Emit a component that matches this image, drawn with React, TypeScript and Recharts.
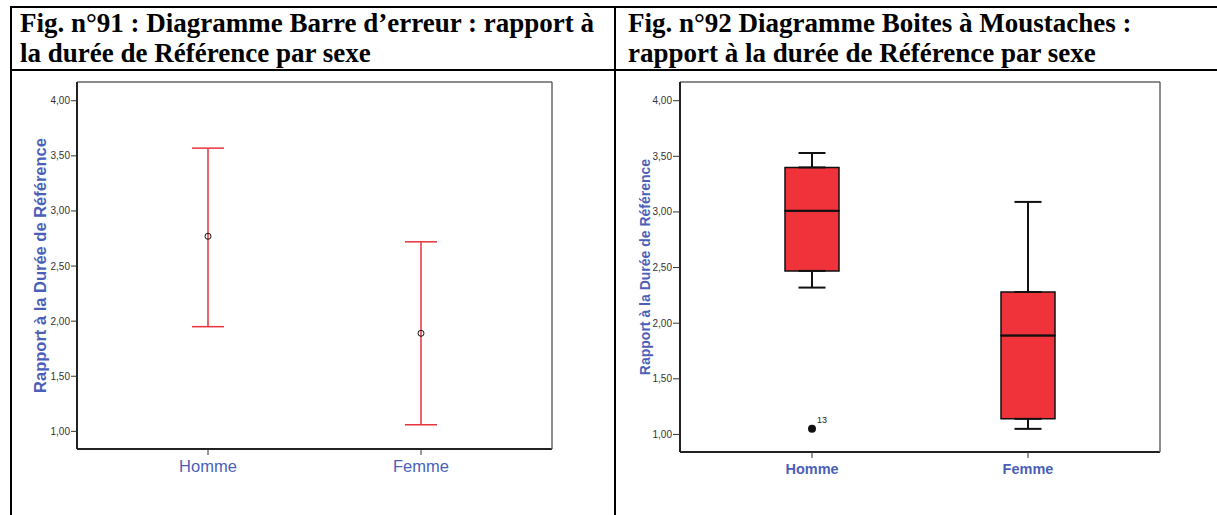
import { Bar, ComposedChart, ErrorBar, LabelList, Scatter, XAxis, YAxis } from "recharts";

const sexes = ["Homme", "Femme"];

// Fig. 91 : moyenne et intervalle de confiance
const means = [2.77, 1.89];
const ciLow = [1.95, 1.06];
const ciHigh = [3.57, 2.72];

// Fig. 92 : boites a moustaches
const whiskerLow = [2.32, 1.05];
const q1 = [2.47, 1.14];
const medians = [3.01, 1.89];
const q3 = [3.4, 2.28];
const whiskerHigh = [3.53, 3.09];
const outliers = [1.05, null];
const outlierIds = ["13", null];

const yTicks = [1, 1.5, 2, 2.5, 3, 3.5, 4];

const BLUE = "#4b5fb8";
const RED = "#e8333b";
const BOX_RED = "#f0323a";
const SANS = "'Liberation Sans', Arial, sans-serif";
const SERIF = "'Liberation Serif', 'Times New Roman', serif";

const errorData = sexes.map((sexe, i) => ({
  sexe,
  mean: means[i],
  ci: [means[i] - ciLow[i], ciHigh[i] - means[i]],
}));

const boxData = sexes.map((sexe, i) => ({
  sexe,
  base: q1[i],
  lower: medians[i] - q1[i],
  upper: q3[i] - medians[i],
  q1: q1[i],
  q3: q3[i],
  median: medians[i],
  lowWhisker: [q1[i] - whiskerLow[i], 0],
  highWhisker: [0, whiskerHigh[i] - q3[i]],
  outlier: outliers[i],
  outlierId: outlierIds[i],
}));

const fmt = (v: number) => v.toFixed(2).replace(".", ",");

const frameLine = { stroke: "#666", strokeWidth: 1.5 };

function ErrorBarChart() {
  return (
    <ComposedChart width={600} height={440} data={errorData} margin={{ top: 9, right: 59, bottom: 33, left: 5 }}>
      <XAxis
        dataKey="sexe"
        padding={{ left: 131, right: 131 }}
        height={30}
        tickSize={6}
        tickMargin={5}
        tick={{ fill: BLUE, fontSize: 16.5, fontFamily: SANS }}
        tickLine={{ stroke: "#333" }}
        axisLine={{ stroke: "#222", strokeWidth: 2 }}
      />
      <XAxis xAxisId="top" orientation="top" type="number" domain={[0, 1]} height={1} tick={false} tickLine={false} axisLine={frameLine} />
      <YAxis
        width={60}
        domain={[0.84, 4.17]}
        allowDataOverflow
        ticks={yTicks}
        tickFormatter={fmt}
        tickSize={6}
        tickMargin={1}
        tick={{ fill: "#333", fontSize: 10, fontFamily: SANS }}
        tickLine={{ stroke: "#333" }}
        axisLine={{ stroke: "#222", strokeWidth: 2 }}
        label={{
          value: "Rapport à la Durée de Référence",
          angle: -90,
          position: "insideLeft",
          offset: 23,
          style: { textAnchor: "middle", fill: BLUE, fontSize: 16.5, fontWeight: "bold", fontFamily: SANS },
        }}
      />
      <YAxis yAxisId="right" orientation="right" type="number" domain={[0, 1]} width={1} tick={false} tickLine={false} axisLine={frameLine} />
      <Scatter
        dataKey="mean"
        isAnimationActive={false}
        shape={(p: any) => <circle cx={p.cx} cy={p.cy} r={3} fill="none" stroke="#111" strokeWidth={1} />}
      >
        <ErrorBar dataKey="ci" direction="y" width={16} stroke={RED} strokeWidth={1.5} isAnimationActive={false} />
      </Scatter>
    </ComposedChart>
  );
}

function BoxPlotChart() {
  return (
    <ComposedChart width={600} height={440} data={boxData} margin={{ top: 9, right: 56, bottom: 30, left: 5 }}>
      <XAxis
        dataKey="sexe"
        padding={{ left: 24, right: 24 }}
        height={30}
        tickSize={6}
        tickMargin={6}
        tick={{ fill: BLUE, fontSize: 14.5, fontWeight: "bold", fontFamily: SANS }}
        tickLine={{ stroke: "#333" }}
        axisLine={{ stroke: "#222", strokeWidth: 2 }}
      />
      <XAxis xAxisId="top" orientation="top" type="number" domain={[0, 1]} height={1} tick={false} tickLine={false} axisLine={frameLine} />
      <YAxis
        width={58}
        domain={[0.842, 4.168]}
        allowDataOverflow
        ticks={yTicks}
        tickFormatter={fmt}
        tickSize={7}
        tickMargin={1}
        tick={{ fill: "#333", fontSize: 10, fontFamily: SANS }}
        tickLine={{ stroke: "#333" }}
        axisLine={{ stroke: "#222", strokeWidth: 2 }}
        label={{
          value: "Rapport à la Durée de Référence",
          angle: -90,
          position: "insideLeft",
          offset: 23,
          style: { textAnchor: "middle", fill: BLUE, fontSize: 14, fontWeight: "bold", fontFamily: SANS },
        }}
      />
      <YAxis yAxisId="right" orientation="right" type="number" domain={[0, 1]} width={1} tick={false} tickLine={false} axisLine={frameLine} />
      <Bar dataKey="base" stackId="box" fill="transparent" barSize={54} isAnimationActive={false} />
      <Bar dataKey="lower" stackId="box" fill={BOX_RED} stroke="#111" strokeWidth={1.5} barSize={54} isAnimationActive={false} />
      <Bar dataKey="upper" stackId="box" fill={BOX_RED} stroke="#111" strokeWidth={1.5} barSize={54} isAnimationActive={false} />
      <Scatter dataKey="q3" isAnimationActive={false} shape={() => <g />}>
        <ErrorBar dataKey="highWhisker" direction="y" width={13.5} stroke="#111" strokeWidth={2} isAnimationActive={false} />
      </Scatter>
      <Scatter dataKey="q1" isAnimationActive={false} shape={() => <g />}>
        <ErrorBar dataKey="lowWhisker" direction="y" width={13.5} stroke="#111" strokeWidth={2} isAnimationActive={false} />
      </Scatter>
      <Scatter
        dataKey="median"
        isAnimationActive={false}
        shape={(p: any) => <line x1={p.cx - 27} x2={p.cx + 27} y1={p.cy} y2={p.cy} stroke="#111" strokeWidth={2} />}
      />
      <Scatter
        dataKey="outlier"
        isAnimationActive={false}
        shape={(p: any) => (p.payload.outlier == null ? <g /> : <circle cx={p.cx} cy={p.cy} r={4} fill="#111" />)}
      >
        <LabelList
          dataKey="outlierId"
          content={(p: any) =>
            p.value ? (
              <text x={p.x + p.width + 0.5} y={p.y - 1.5} fontSize={9} fill="#222" fontFamily={SANS}>
                {p.value}
              </text>
            ) : null
          }
        />
      </Scatter>
    </ComposedChart>
  );
}

const line = (style: React.CSSProperties) => <div style={{ position: "absolute", background: "#000", ...style }} />;

const headerStyle: React.CSSProperties = {
  position: "absolute",
  top: 8,
  fontFamily: SERIF,
  fontWeight: "bold",
  fontSize: 27,
  lineHeight: "30px",
  color: "#000",
  whiteSpace: "nowrap",
};

export default function App() {
  return (
    <div style={{ position: "absolute", left: 0, top: 0, width: 1217, height: 515, background: "#fff", overflow: "hidden" }}>
      {line({ left: 10, top: 6, width: 1207, height: 2 })}
      {line({ left: 10, top: 69, width: 1207, height: 2 })}
      {line({ left: 10, top: 6, width: 2, height: 509 })}
      {line({ left: 614, top: 6, width: 2, height: 509 })}
      <div style={{ ...headerStyle, left: 20 }}>
        Fig. n°91 : Diagramme Barre d’erreur : rapport à
        <br />
        la durée de Référence par sexe
      </div>
      <div style={{ ...headerStyle, left: 628 }}>
        Fig. n°92 Diagramme Boites à Moustaches :
        <br />
        rapport à la durée de Référence par sexe
      </div>
      <div style={{ position: "absolute", left: 12, top: 72 }}>
        <ErrorBarChart />
      </div>
      <div style={{ position: "absolute", left: 617, top: 72 }}>
        <BoxPlotChart />
      </div>
    </div>
  );
}
